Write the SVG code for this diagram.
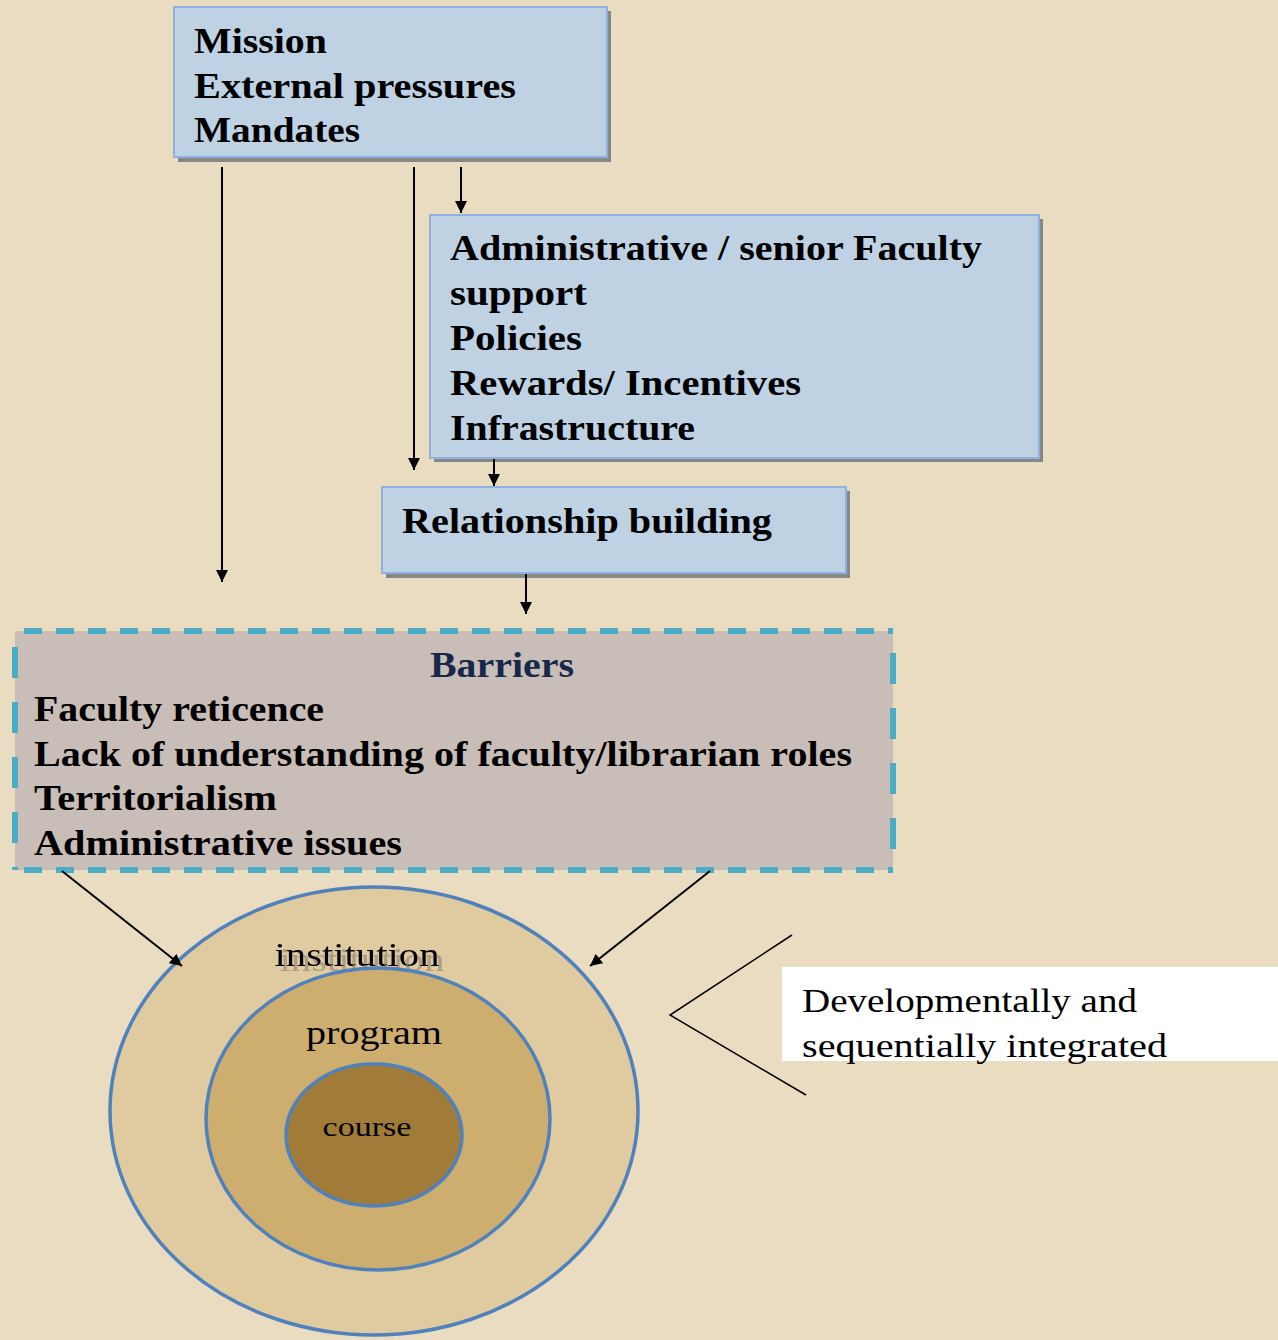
<svg xmlns="http://www.w3.org/2000/svg" width="1278" height="1340" viewBox="0 0 1278 1340">
<defs>
<style>
.bx{fill:#BFD2E4;stroke:#8FB1DA;stroke-width:2}
.sh{fill:#85888A}
.bt{font-family:"Liberation Serif","DejaVu Serif",serif;font-weight:bold;font-size:35px;fill:#000}
.rt{font-family:"Liberation Serif","DejaVu Serif",serif;font-size:34px;fill:#000}
.cn{stroke:#000;stroke-width:2;fill:none}
.el{stroke:#4F81BD;stroke-width:3.5}
</style>
<marker id="ah" markerWidth="12" markerHeight="12" viewBox="0 0 12 12" refX="12" refY="6" orient="auto" markerUnits="userSpaceOnUse">
<path d="M0,0 L12,6 L0,12 z" fill="#000"/>
</marker>
<filter id="ghost" x="-10%" y="-20%" width="120%" height="160%">
<feOffset in="SourceAlpha" dx="5" dy="5" result="o"/>
<feFlood flood-color="#9E927F" flood-opacity="0.8"/>
<feComposite in2="o" operator="in" result="s"/>
<feMerge><feMergeNode in="s"/><feMergeNode in="SourceGraphic"/></feMerge>
</filter>
</defs>
<rect width="1278" height="1340" fill="#EADCC1"/>

<g id="mission">
<rect class="sh" x="178" y="11" width="433" height="151"/>
<rect class="bx" x="174" y="7" width="433" height="150"/>
<text class="bt" x="194" y="53" textLength="133" lengthAdjust="spacingAndGlyphs">Mission</text>
<text class="bt" x="194" y="98" textLength="322" lengthAdjust="spacingAndGlyphs">External pressures</text>
<text class="bt" x="194" y="142" textLength="166" lengthAdjust="spacingAndGlyphs">Mandates</text>
</g>

<g id="support">
<rect class="sh" x="434" y="219" width="609" height="243"/>
<rect class="bx" x="430" y="215" width="609" height="243"/>
<text class="bt" x="450" y="260" textLength="532" lengthAdjust="spacingAndGlyphs">Administrative / senior Faculty</text>
<text class="bt" x="450" y="305" textLength="137" lengthAdjust="spacingAndGlyphs">support</text>
<text class="bt" x="450" y="350" textLength="132" lengthAdjust="spacingAndGlyphs">Policies</text>
<text class="bt" x="450" y="395" textLength="351" lengthAdjust="spacingAndGlyphs">Rewards/ Incentives</text>
<text class="bt" x="450" y="440" textLength="245" lengthAdjust="spacingAndGlyphs">Infrastructure</text>
</g>

<g id="relationship">
<rect class="sh" x="386" y="491" width="464" height="87"/>
<rect class="bx" x="382" y="487" width="464" height="86"/>
<text class="bt" x="402" y="533" textLength="370" lengthAdjust="spacingAndGlyphs">Relationship building</text>
</g>

<g id="barriers">
<rect x="15" y="631" width="878" height="239" fill="#C9BDB7"/>
<line x1="15" y1="631" x2="893" y2="631" stroke="#4BACC6" stroke-width="6" stroke-dasharray="18 14" stroke-dashoffset="-9"/>
<line x1="15" y1="870" x2="893" y2="870" stroke="#4BACC6" stroke-width="6" stroke-dasharray="18 14" stroke-dashoffset="-9"/>
<line x1="15" y1="631" x2="15" y2="870" stroke="#4BACC6" stroke-width="6" stroke-dasharray="31 24" stroke-dashoffset="-16"/>
<line x1="893" y1="631" x2="893" y2="870" stroke="#4BACC6" stroke-width="6" stroke-dasharray="31 24" stroke-dashoffset="-22"/>
<text class="bt" x="502" y="677" text-anchor="middle" style="fill:#17294A" textLength="144" lengthAdjust="spacingAndGlyphs">Barriers</text>
<text class="bt" x="34" y="721" textLength="290" lengthAdjust="spacingAndGlyphs">Faculty reticence</text>
<text class="bt" x="34" y="766" textLength="818" lengthAdjust="spacingAndGlyphs">Lack of understanding of faculty/librarian roles</text>
<text class="bt" x="34" y="810" textLength="243" lengthAdjust="spacingAndGlyphs">Territorialism</text>
<text class="bt" x="34" y="855" textLength="368" lengthAdjust="spacingAndGlyphs">Administrative issues</text>
</g>

<g id="institution">
<ellipse class="el" cx="374" cy="1111" rx="264" ry="224" fill="#E0CA9F"/>
<text class="rt" x="357" y="966" text-anchor="middle" filter="url(#ghost)" textLength="165" lengthAdjust="spacingAndGlyphs">institution</text>
</g>

<g id="program">
<ellipse class="el" cx="378" cy="1119" rx="172" ry="151" fill="#CEAE6F"/>
<text class="rt" x="374" y="1044" text-anchor="middle" textLength="136" lengthAdjust="spacingAndGlyphs">program</text>
</g>

<g id="course">
<ellipse class="el" cx="374" cy="1135" rx="88" ry="71" fill="#A07C38"/>
<text class="rt" x="367" y="1136" text-anchor="middle" style="font-size:28px" textLength="89" lengthAdjust="spacingAndGlyphs">course</text>
</g>

<g id="note">
<rect x="782" y="967" width="496" height="94" fill="#FFFFFF"/>
<text class="rt" x="802" y="1012" textLength="335" lengthAdjust="spacingAndGlyphs">Developmentally and</text>
<text class="rt" x="802" y="1057" textLength="365" lengthAdjust="spacingAndGlyphs">sequentially integrated</text>
</g>

<g id="connectors">
<path class="cn" d="M222,167 V582" marker-end="url(#ah)"/>
<path class="cn" d="M414,167 V470" marker-end="url(#ah)"/>
<path class="cn" d="M461,167 V213" marker-end="url(#ah)"/>
<path class="cn" d="M494,459 V486" marker-end="url(#ah)"/>
<path class="cn" d="M526,574 V614" marker-end="url(#ah)"/>
<path class="cn" d="M62,871 L182,966" marker-end="url(#ah)"/>
<path class="cn" d="M710,871 L590,966" marker-end="url(#ah)"/>
<path d="M792,935 L670,1015 L806,1095" stroke="#000" stroke-width="1.5" fill="none"/>
</g>
</svg>
